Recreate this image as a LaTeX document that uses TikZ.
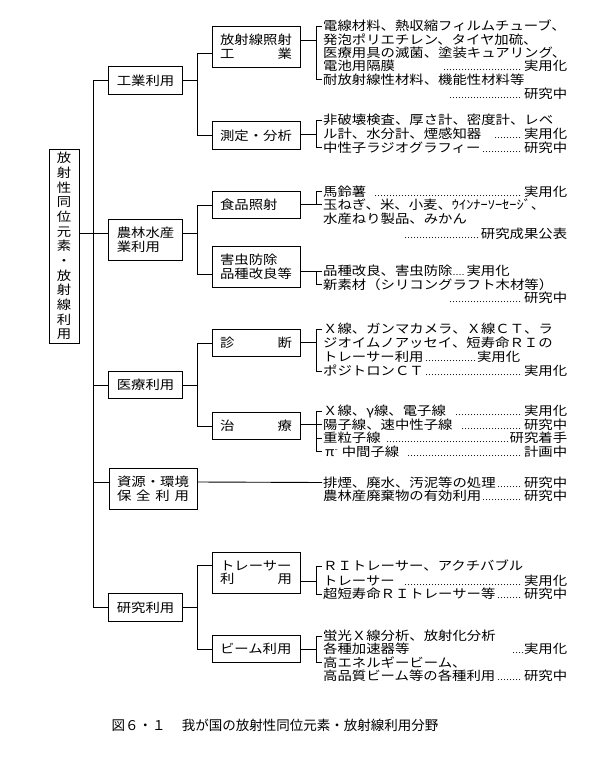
\documentclass[tikz,border=0pt]{standalone}
\usepackage{fontspec}
\newfontfamily\jp[FakeStretch=1.15]{Noto Sans CJK JP}
\newfontfamily\jpcap{Noto Sans CJK JP}
\newcommand\leaderfill{\leaders\hbox to 3pt{\hss\fontsize{8}{8}\selectfont.\hss}\hfill}
\newcommand\leaderrun[1]{\hbox to #1{\leaderfill}}
\newcommand\minussup{\raisebox{4pt}{\fontsize{8}{8}\selectfont -}}
\tikzset{
    box/.style={draw, line width=0.9pt, inner xsep=8pt, inner ysep=2pt, align=left,
        minimum height=27.5pt, font=\jp\fontsize{12.5}{13.6}\selectfont},
    topbox/.style={box, text width=57.5pt},
    subbox/.style={box, text width=72pt},
    tall/.style={minimum height=41pt},
    listtext/.style={anchor=west, inner sep=0pt, text height=11pt, text depth=1.5pt,
        font=\jp\fontsize{12.5}{13.6}\selectfont},
    fullrow/.style={listtext, text width=244pt, align=left},
    link/.style={line width=0.9pt},
}
\begin{document}
\begin{tikzpicture}[x=1pt,y=-1pt]
    \useasboundingbox (0,0) rectangle (589,759);
    \node[box, text width=14.4pt, inner xsep=0pt, align=center, minimum width=30pt,
        minimum height=194pt, font=\jp\fontsize{12.5}{14.67}\selectfont] (root) at (64,246)
        {放\\射\\性\\同\\位\\元\\素\\・\\放\\射\\線\\利\\用};
    \node[topbox] (ind) at (145.5,80.5) {工業利用};
    \node[topbox, tall] (agr) at (145.5,240) {農林水産\\業利用};
    \node[topbox] (med) at (145.5,385) {医療利用};
    \node[subbox, tall] (env) at (153,489) {資源・環境\\保\hfill 全\hfill 利\hfill 用};
    \node[topbox] (res) at (145.5,607.5) {研究利用};
    \node[subbox, tall] (rad) at (256,46.5) {放射線照射\\工\hfill 業};
    \node[subbox] (meas) at (256,135.5) {測定・分析};
    \node[subbox] (food) at (256,205) {食品照射};
    \node[subbox, tall] (pest) at (256,267) {害虫防除\\品種改良等};
    \node[subbox] (diag) at (256,343) {診\hfill 断};
    \node[subbox] (ther) at (256,426) {治\hfill 療};
    \node[subbox, tall] (trac) at (256,572.5) {トレーサー\\利\hfill 用};
    \node[subbox] (beam) at (256,649) {ビーム利用};
    \foreach \n/\y/\txt in {a1/26/電線材料、熱収縮フィルムチューブ、,%
        a2/40/発泡ポリエチレン、タイヤ加硫、,%
        a3/52.5/医療用具の滅菌、塗装キュアリング、,%
        a5/79.5/耐放射線性材料、機能性材料等,%
        b1/120/非破壊検査、厚さ計、密度計、レベ,%
        c2/204.5/玉ねぎ、米、小麦、ｳｲﾝﾅｰｿｰｾｰｼﾞ、,%
        c3/218.5/水産ねり製品、みかん,%
        d1/271/品種改良、害虫防除\leaderrun{14pt}実用化,%
        d2/284.5/新素材（シリコングラフト木材等）,%
        e1/329/Ｘ線、ガンマカメラ、Ｘ線ＣＴ、ラ,%
        e2/342.5/ジオイムノアッセイ、短寿命ＲＩの,%
        h1/566/ＲＩトレーサー、アクチバブル,%
        i1/636/蛍光Ｘ線分析、放射化分析,%
        i3/662.5/高エネルギービーム、}
    {
    \node[listtext] (\n) at (323,\y) {\txt};
    }
    \foreach \n/\y/\txt in {a4/66/電池用隔膜\hspace{48pt}\leaderfill 実用化,%
        a6/93.5/\hspace{125pt}\leaderfill 研究中,%
        b2/134/ル計、水分計、煙感知器\hspace{10pt}\leaderfill 実用化,%
        b3/147.5/中性子ラジオグラフィー\leaderfill 研究中,%
        c1/191.5/馬鈴薯\hspace{6pt}\leaderfill 実用化,%
        c4/233.5/\hspace{80pt}\leaderfill 研究成果公表,%
        d3/297.5/\hspace{124pt}\leaderfill 研究中,%
        e4/371/ポジトロンＣＴ\leaderfill 実用化,%
        f1/411/Ｘ線、γ線、電子線\hspace{8pt}\leaderfill 実用化,%
        f2/424.5/陽子線、速中性子線\hspace{8pt}\leaderfill 研究中,%
        f3/438/重粒子線\hspace{4pt}\leaderfill 研究着手,%
        f4/451.5/\hspace{2pt}π\minussup\hspace{4pt}中間子線\hspace{6pt}\leaderfill 計画中,%
        g1/482.5/排煙、廃水、汚泥等の処理\leaderfill 研究中,%
        g2/496/農林産廃棄物の有効利用\leaderfill 研究中,%
        h2/581/トレーサー\hspace{8pt}\leaderfill 実用化,%
        h3/594/超短寿命ＲＩトレーサー等\leaderfill 研究中,%
        i2/649/各種加速器等\hfill\leaderrun{12pt}実用化,%
        i4/676/高品質ビーム等の各種利用\leaderfill 研究中}
    {
    \node[fullrow] (\n) at (323,\y) {\txt};
    }
    \node[fullrow, text width=197pt] (e3) at (323,356.5) {トレーサー利用\leaderfill 実用化};
    \node[font=\jpcap\fontsize{13.5}{14}\selectfont] (caption) at (275,725)
        {図６・１\hspace{1.2em}我が国の放射性同位元素・放射線利用分野};
    \coordinate (trunk) at (93.5,0);
    \coordinate (fork) at (197.5,0);
    \coordinate (brace) at (316,0);
    \coordinate (agrj) at ([yshift=7pt]agr.west);
    \coordinate (envj) at ([yshift=7pt]env.west);
    \coordinate (radl) at ([yshift=-6.5pt]rad.west);
    \coordinate (pestl) at ([yshift=-7pt]pest.west);
    \coordinate (tracl) at ([yshift=7pt]trac.west);
    \draw[link] (ind.west) -- (ind.west -| trunk) -- (res.west -| trunk) -- (res.west);
    \draw[link] (root.east |- agrj) -- (agrj);
    \draw[link] (med.west) -- (med.west -| trunk);
    \draw[link] (envj) -- (envj -| trunk);
    \draw[link] (ind.east) -- (ind.east -| fork);
    \draw[link] (radl) -- (radl -| fork) -- (meas.west -| fork) -- (meas.west);
    \draw[link] (agrj -| agr.east) -- (agrj -| fork);
    \draw[link] (food.west) -- (food.west -| fork) -- (pestl -| fork) -- (pestl);
    \draw[link] (med.east) -- (med.east -| fork);
    \draw[link] (diag.west) -- (diag.west -| fork) -- (ther.west -| fork) -- (ther.west);
    \draw[link] (envj -| env.east) -- ([xshift=-1pt]g1.west);
    \draw[link] (res.east) -- (res.east -| fork);
    \draw[link] (tracl) -- (tracl -| fork) -- (beam.west -| fork) -- (beam.west);
    \draw[link] (rad.east |- a2.west) -- (brace |- a2.west);
    \draw[link] ([xshift=-1pt]a1.west) -| (brace |- a5.west) -- ([xshift=-1pt]a5.west);
    \draw[link] (meas.east |- b2.west) -- (brace |- b2.west);
    \draw[link] ([xshift=-1pt]b1.west) -| (brace |- b3.west) -- ([xshift=-1pt]b3.west);
    \draw[link] (food.east |- c2.west) -- ([xshift=-1pt]c2.west);
    \draw[link] ([xshift=-1pt]c1.west) -| (brace |- c2.west);
    \draw[link] (pest.east |- d1.west) -- ([xshift=-1pt]d1.west);
    \draw[link] ([xshift=-1pt]d2.west) -| (brace |- d1.west);
    \draw[link] (diag.east |- e2.west) -- (brace |- e2.west);
    \draw[link] ([xshift=-1pt]e1.west) -| (brace |- e4.west) -- ([xshift=-1pt]e4.west);
    \draw[link] (ther.east |- f2.west) -- ([xshift=-1pt]f2.west);
    \draw[link] ([xshift=-1pt]f1.west) -| (brace |- f4.west) -- ([xshift=-1pt]f4.west);
    \draw[link] (brace |- f3.west) -- ([xshift=-1pt]f3.west);
    \draw[link] (trac.east |- h2.west) -- (brace |- h2.west);
    \draw[link] ([xshift=-1pt]h1.west) -| (brace |- h3.west) -- ([xshift=-1pt]h3.west);
    \draw[link] (beam.east |- i2.west) -- (brace |- i2.west);
    \draw[link] ([xshift=-1pt]i1.west) -| (brace |- i3.west) -- ([xshift=-1pt]i3.west);
\end{tikzpicture}
\end{document}
